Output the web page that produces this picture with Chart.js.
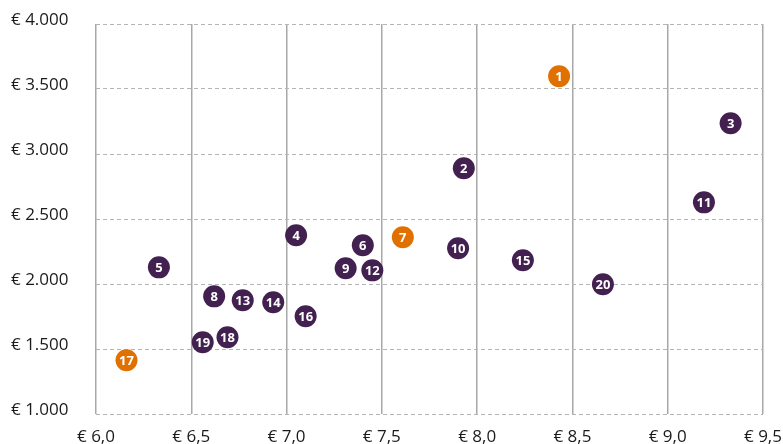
<!DOCTYPE html>
<html>
<head>
<meta charset="utf-8">
<script src="https://cdn.jsdelivr.net/npm/chart.js@4"></script>
<style>
  html, body { margin: 0; padding: 0; background: #fff; }
  #wrap { width: 783px; height: 444px; }
</style>
</head>
<body>
<div id="wrap"><canvas id="chart1" width="783" height="444"></canvas></div>
<script>
// punten: nummer, x (prijs), y (bedrag), kleur
const labels = ['1','2','3','4','5','6','7','8','9','10','11','12','13','14','15','16','17','18','19','20'];
const xValues = [8.43, 7.93, 9.33, 7.05, 6.33, 7.40, 7.61, 6.62, 7.31, 7.90, 9.19, 7.45, 6.77, 6.93, 8.24, 7.10, 6.16, 6.69, 6.56, 8.66];
const yValues = [3598, 2890, 3236, 2375, 2128, 2298, 2359, 1905, 2121, 2275, 2628, 2105, 1875, 1859, 2182, 1752, 1413, 1590, 1552, 1998];
const highlighted = ['1', '7', '17'];

const xTicks = [6.0, 6.5, 7.0, 7.5, 8.0, 8.5, 9.0, 9.5];
const yTicks = [1000, 1500, 2000, 2500, 3000, 3500, 4000];

const purple = '#42204f';
const orange = '#e07000';

const points = labels.map((l, i) => ({ x: xValues[i], y: yValues[i] }));
const colors = labels.map(l => highlighted.includes(l) ? orange : purple);

const fontFam = '"Open Sans", "Noto Sans", sans-serif';

// nummers in de bolletjes
const numberPlugin = {
  id: 'numbers',
  afterDatasetsDraw(chart) {
    const ctx = chart.ctx;
    const meta = chart.getDatasetMeta(0);
    ctx.save();
    ctx.fillStyle = '#fff';
    ctx.font = 'bold 13px ' + fontFam;
    ctx.textAlign = 'center';
    ctx.textBaseline = 'middle';
    meta.data.forEach((pt, i) => {
      ctx.fillText(labels[i], pt.x, pt.y + 1);
    });
    ctx.restore();
  }
};

const nl = (v, d) => v.toFixed(d).replace('.', ',');
const thousands = v => String(v).replace(/\B(?=(\d{3})+(?!\d))/g, '.');

new Chart(document.getElementById('chart1').getContext('2d'), {
  type: 'scatter',
  data: {
    datasets: [{
      data: points,
      backgroundColor: colors,
      borderColor: colors,
      pointRadius: 11,
      pointHoverRadius: 11,
      borderWidth: 0,
      clip: false
    }]
  },
  options: {
    responsive: false,
    animation: false,
    events: [],
    layout: { padding: { left: 11, right: 20, top: 24, bottom: 0 } },
    plugins: { legend: { display: false }, tooltip: { enabled: false } },
    scales: {
      x: {
        type: 'linear',
        min: 6, max: 9.5,
        afterBuildTicks: s => { s.ticks = xTicks.map(v => ({ value: v })); },
        afterFit: s => { s.height = 30; s.paddingLeft = 0; s.paddingRight = 0; },
        border: { display: false },
        grid: { color: '#a8a8a8', lineWidth: 1.5, drawTicks: false },
        ticks: {
          padding: 13,
          color: '#1a1a1a',
          font: { family: fontFam, size: 17 },
          callback: v => '€ ' + nl(v, 1)
        }
      },
      y: {
        type: 'linear',
        min: 1000, max: 4000,
        afterBuildTicks: s => { s.ticks = yTicks.map(v => ({ value: v })); },
        afterFit: s => { s.width = 85; s.paddingTop = 0; s.paddingBottom = 0; },
        border: { display: false, dash: [4, 3] },
        grid: { color: '#b5b5b5', lineWidth: 1, drawTicks: false },
        ticks: {
          crossAlign: 'far',
          labelOffset: -4,
          color: '#1a1a1a',
          font: { family: fontFam, size: 17 },
          callback: v => '€ ' + thousands(v)
        }
      }
    }
  },
  plugins: [numberPlugin]
});
</script>
</body>
</html>
